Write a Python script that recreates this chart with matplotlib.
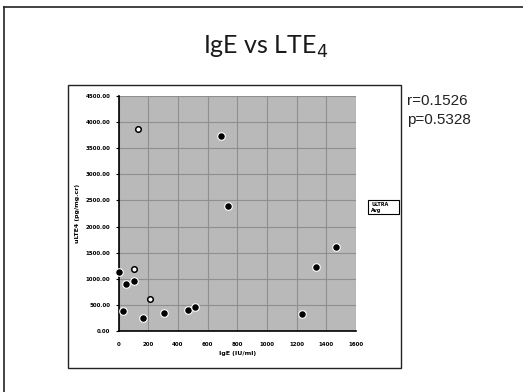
import matplotlib
matplotlib.use("Agg")
import matplotlib.pyplot as plt
from matplotlib.patches import Rectangle
from matplotlib.lines import Line2D

W, H = 523, 392

# IgE (IU/ml) vs urinary LTE4 (pg/mg.cr)
ige_filled = [0, 50, 106, 32, 167, 309, 468, 515, 1233, 1330, 1465, 688, 735]
lte4_filled = [1136, 906, 964, 389, 243, 339, 408, 460, 320, 1220, 1604, 3736, 2395]
ige_open = [106, 212, 129]
lte4_open = [1194, 607, 3870]

x_ticks = [0, 200, 400, 600, 800, 1000, 1200, 1400, 1600]
y_ticks = [0, 500, 1000, 1500, 2000, 2500, 3000, 3500, 4000, 4500]
y_tick_labels = [f"{v:.2f}" for v in y_ticks]

title_text = "IgE vs LTE$_4$"
stats_lines = ["r=0.1526", "p=0.5328"]


def fx(px):
    return px / W


def fy(py):
    return 1 - py / H


fig = plt.figure(figsize=(W / 100, H / 100), dpi=100)
fig.patch.set_facecolor("white")

# slide frame (top and left edges)
fig.add_artist(Line2D([fx(4), fx(523)], [fy(7), fy(7)], color="#222222", lw=1.2,
                      transform=fig.transFigure))
fig.add_artist(Line2D([fx(4), fx(4)], [fy(7), fy(392)], color="#222222", lw=1.2,
                      transform=fig.transFigure))

# title
fig.text(fx(266), fy(47), title_text, ha="center", va="center",
         fontsize=18, family="Lato", color="#1a1a1a")

# embedded chart frame
fig.add_artist(Rectangle((fx(68), fy(368)), fx(401) - fx(68), fy(85) - fy(368),
                         transform=fig.transFigure, fill=False,
                         edgecolor="#222222", lw=1.0))

ax = fig.add_axes([fx(118.5), fy(331), fx(356) - fx(118.5), fy(96) - fy(331)])
ax.set_facecolor("#b9b9b9")
ax.set_xlim(0, 1600)
ax.set_ylim(0, 4500)
ax.set_xticks(x_ticks)
ax.set_yticks(y_ticks)
ax.set_xticklabels([str(v) for v in x_ticks], fontsize=4, fontweight="bold")
ax.set_yticklabels(y_tick_labels, fontsize=4, fontweight="bold")
ax.grid(True, color="#8f8f8f", lw=0.8)
ax.set_axisbelow(True)
for side in ("top", "right"):
    ax.spines[side].set_visible(False)
for side in ("left", "bottom"):
    ax.spines[side].set_color("black")
    ax.spines[side].set_linewidth(1.2)
ax.tick_params(axis="both", length=2, width=0.8, pad=4, colors="black")
ax.tick_params(axis="x", length=0, pad=8)

ax.scatter(ige_filled, lte4_filled, s=30, c="black", edgecolors="white",
           linewidths=0.8, zorder=3, clip_on=False)
ax.scatter(ige_open, lte4_open, s=16, c="white", edgecolors="black",
           linewidths=1.1, zorder=3, clip_on=False)

ax.set_xlabel("IgE (IU/ml)", fontsize=4.5, fontweight="bold", labelpad=3)
ax.set_ylabel("uLTE4 (pg/mg.cr)", fontsize=4.5, fontweight="bold", labelpad=4)

# legend box
fig.add_artist(Rectangle((fx(368), fy(214)), fx(399) - fx(368), fy(200) - fy(214),
                         transform=fig.transFigure, fill=True, facecolor="white",
                         edgecolor="black", lw=0.8))
fig.text(fx(371), fy(204), "ULTRA", fontsize=3.5, fontweight="bold",
         ha="left", va="center")
fig.text(fx(371), fy(210.5), "Avg", fontsize=3.5, fontweight="bold",
         ha="left", va="center")

# correlation statistics
fig.text(fx(407), fy(101), stats_lines[0], fontsize=11, family="Liberation Sans",
         ha="left", va="center", color="#222222")
fig.text(fx(407), fy(120), stats_lines[1], fontsize=11, family="Liberation Sans",
         ha="left", va="center", color="#222222")

fig.savefig("out.png", dpi=100)
